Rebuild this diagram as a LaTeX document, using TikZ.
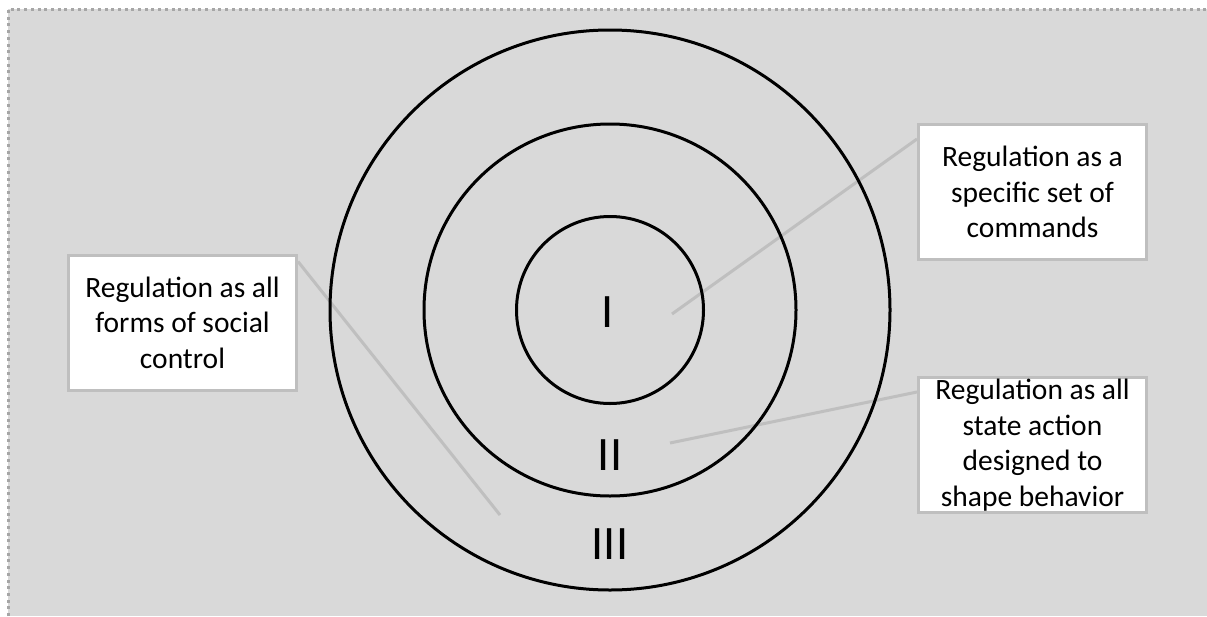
\documentclass[tikz,border=0pt]{standalone}
\usepackage{fontspec}
\setmainfont{Carlito}
\usetikzlibrary{positioning}
\definecolor{canvas}{HTML}{D9D9D9}
\definecolor{boxrule}{HTML}{BFBFBF}
\definecolor{framedot}{HTML}{A6A6A6}

\begin{document}
\begin{tikzpicture}[x=1pt, y=-1pt,
  regbox/.style={draw=boxrule, fill=white, line width=3pt, minimum width=228pt,
    minimum height=135pt, inner sep=0pt, align=center, text=black,
    font=\fontsize{29.5}{35.5}\selectfont},
  ring/.style={draw=black, line width=3pt},
  numeral/.style={font=\fontsize{48}{48}\selectfont, inner sep=0pt},
  tieline/.style={boxrule, line width=3pt}]
  \useasboundingbox (0,0) rectangle (1207,616);
  \fill[canvas] (8,9) rectangle (1207,616);
  \draw[framedot, line width=3pt, dash pattern=on 3pt off 3.7pt] (8,616) -- (8,9) -- (1207,9);
  % the three text boxes
  \node[regbox] (cmd) at (1032.5,192) {Regulation as a\\specific set of\\commands};
  \node[regbox] (state) at (1032.5,445) {Regulation as all\\state action\\designed to\\shape behavior};
  \node[regbox] (social) at (182.5,322.5) {Regulation as all\\forms of social\\control};
  % pointers into the rings
  \coordinate (inI) at (672,314);
  \coordinate (inII) at (670,443);
  \coordinate (inIII) at (500,515);
  \draw[tieline] (inI) -- ([yshift=-16pt]cmd.north west);
  \draw[tieline] (inII) -- ([yshift=-16pt]state.north west);
  \draw[tieline] ([yshift=-8pt]social.north east) -- (inIII);
  % rings
  \coordinate (c) at (610,310);
  \draw[ring] (c) circle[radius=280pt];
  \draw[ring] (c) circle[radius=186pt];
  \draw[ring] (c) circle[radius=93.5pt];
  \node[numeral] (one) at (608,312.5) {I};
  \node[numeral] (two) at (610,455) {II};
  \node[numeral] (three) at (610,544) {III};
\end{tikzpicture}
\end{document}
